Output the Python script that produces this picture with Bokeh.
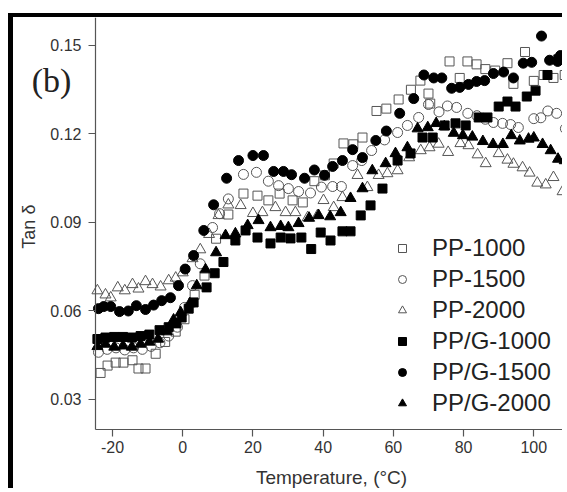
import math
from bokeh.plotting import figure
from bokeh.models import FixedTicker, Legend, LegendItem, Label
from bokeh.embed import file_html
from bokeh.resources import INLINE

# ---------------- data ----------------
pp1000_t = [-23.4, -21.4, -19.1, -16.9, -14.3, -12.6, -10.6, -7.7, -5.0, -2.0, 0.5, 3.4, 6.2, 9.5, 13.0,
            17.3, 21.3, 24.4, 27.6, 31.3, 34.2, 37.5, 40.5, 43.0, 45.8, 48.6, 51.2, 55.2, 58.0, 61.5,
            65.0, 67.7, 70.0, 70.5, 76.0, 78.9, 81.1, 83.7, 86.2, 89.0, 92.5, 94.2, 97.5, 100.0, 102.8,
            105.6, 108.8]
pp1000_v = [0.0390, 0.0415, 0.0425, 0.0425, 0.0433, 0.0405, 0.0405, 0.0455, 0.0495, 0.0530, 0.0572, 0.0655,
            0.0720, 0.0845, 0.0927, 0.0998, 0.0991, 0.0975, 0.0998, 0.0975, 0.0968, 0.1040, 0.1060, 0.1100,
            0.1168, 0.1165, 0.1188, 0.1278, 0.1286, 0.1317, 0.1350, 0.1381, 0.1337, 0.1303, 0.1446, 0.1390,
            0.1446, 0.1436, 0.1420, 0.1415, 0.1440, 0.1370, 0.1478, 0.1380, 0.1400, 0.1390, 0.1400]

pp1500_t = [-24.0, -21.5, -19.0, -16.5, -14.0, -11.5, -9.0, -6.5, -4.0, -1.5, 0.5, 2.8, 5.0, 8.5, 10.5,
            13.0, 17.3, 21.0, 24.4, 27.3, 30.1, 33.0, 36.4, 39.5, 42.7, 45.2, 48.4, 51.0, 53.8, 57.5,
            61.2, 64.0, 67.2, 70.0, 73.0, 75.4, 78.0, 81.2, 83.8, 86.2, 88.5, 91.1, 93.4, 95.6, 100.0,
            102.0, 104.0, 106.5, 109.0]
pp1500_v = [0.0460, 0.0470, 0.0475, 0.0468, 0.0475, 0.0470, 0.0480, 0.0492, 0.0515, 0.0545, 0.0612, 0.0686,
            0.0760, 0.0883, 0.0930, 0.0980, 0.1063, 0.1070, 0.1040, 0.1025, 0.1015, 0.1005, 0.1000, 0.1020,
            0.1022, 0.1022, 0.1093, 0.1110, 0.1144, 0.1180, 0.1205, 0.1229, 0.1256, 0.1300, 0.1275, 0.1295,
            0.1290, 0.1270, 0.1262, 0.1250, 0.1239, 0.1236, 0.1232, 0.1222, 0.1252, 0.1255, 0.1278, 0.1270,
            0.1218]

pp2000_t = [-24.3, -22.0, -20.5, -18.5, -16.5, -14.3, -12.6, -10.6, -8.6, -6.3, -4.0, -2.0, 0.0, 2.8, 5.0,
            7.5, 10.2, 13.0, 16.5, 20.0, 22.7, 26.4, 29.3, 32.1, 35.6, 38.4, 40.1, 43.0, 45.5, 49.8,
            52.6, 55.8, 58.3, 61.2, 64.5, 67.8, 70.3, 72.9, 75.6, 79.1, 81.4, 84.0, 86.3, 90.0, 92.5,
            94.2, 96.8, 98.8, 101.0, 103.4, 105.6, 108.2]
pp2000_v = [0.0669, 0.0655, 0.0645, 0.0679, 0.0669, 0.0690, 0.0675, 0.0700, 0.0690, 0.0682, 0.0703, 0.0712,
            0.0730, 0.0778, 0.0808, 0.0860, 0.0924, 0.0960, 0.0958, 0.0931, 0.0934, 0.0951, 0.0934, 0.0934,
            0.0917, 0.0924, 0.0975, 0.0951, 0.0985, 0.1060, 0.1019, 0.1060, 0.1066, 0.1076, 0.1120, 0.1144,
            0.1154, 0.1166, 0.1138, 0.1168, 0.1161, 0.1130, 0.1100, 0.1134, 0.1112, 0.1098, 0.1086, 0.1068,
            0.1034, 0.1028, 0.1053, 0.1005]

ppg1000_t = [-24.3, -22.0, -19.5, -17.0, -14.5, -12.0, -9.5, -6.6, -4.0, -1.8, -0.3, 1.7, 3.1, 6.8, 9.1,
             11.6, 15.0, 17.9, 21.3, 25.0, 27.9, 30.7, 33.8, 36.6, 39.3, 42.1, 45.5, 47.8, 50.7, 53.5,
             56.9, 61.2, 64.9, 68.3, 71.2, 74.6, 77.7, 80.6, 84.3, 86.8, 90.0, 92.5, 94.8, 98.0, 100.5,
             103.9, 107.0]
ppg1000_v = [0.0505, 0.0510, 0.0512, 0.0512, 0.0510, 0.0515, 0.0520, 0.0535, 0.0545, 0.0558, 0.0578, 0.0608,
             0.0629, 0.0680, 0.0728, 0.0766, 0.0839, 0.0873, 0.0849, 0.0829, 0.0849, 0.0846, 0.0849, 0.0810,
             0.0866, 0.0839, 0.0870, 0.0870, 0.0924, 0.0958, 0.1015, 0.1110, 0.1134, 0.1188, 0.1188, 0.1229,
             0.1236, 0.1229, 0.1256, 0.1256, 0.1293, 0.1310, 0.1293, 0.1327, 0.1347, 0.1400, 0.1453]

ppg1500_t = [-24.0, -22.5, -20.5, -18.0, -15.5, -13.2, -10.6, -8.3, -6.0, -3.5, -1.2, 0.7, 3.1, 6.0, 8.8,
             12.5, 15.9, 20.0, 23.0, 25.9, 28.7, 31.0, 34.7, 37.5, 40.4, 42.7, 45.5, 48.4, 51.2, 55.0,
             58.0, 61.8, 65.8, 68.7, 71.5, 73.8, 76.6, 78.9, 81.4, 83.7, 86.0, 88.5, 91.4, 94.2, 97.0,
             99.4, 102.2, 104.5, 106.8, 107.6]
ppg1500_v = [0.0608, 0.0615, 0.0615, 0.0598, 0.0600, 0.0618, 0.0605, 0.0620, 0.0635, 0.0645, 0.0686, 0.0742,
             0.0788, 0.0873, 0.0960, 0.1050, 0.1110, 0.1127, 0.1127, 0.1073, 0.1073, 0.1062, 0.1050, 0.1078,
             0.1060, 0.1090, 0.1110, 0.1147, 0.1120, 0.1178, 0.1210, 0.1270, 0.1320, 0.1400, 0.1390, 0.1390,
             0.1355, 0.1358, 0.1368, 0.1378, 0.1381, 0.1405, 0.1410, 0.1390, 0.1440, 0.1443, 0.1532, 0.1450,
             0.1446, 0.1466]

ppg2000_t = [-24.3, -22.0, -19.5, -17.0, -14.5, -12.0, -9.5, -7.0, -4.5, -2.6, -0.6, 2.0, 4.0, 6.5, 9.5,
             12.2, 15.0, 18.5, 21.6, 25.0, 27.9, 30.1, 33.0, 36.0, 38.7, 42.0, 45.0, 47.8, 51.2, 54.0,
             57.8, 60.6, 64.0, 66.9, 69.8, 72.2, 74.5, 77.2, 79.8, 82.5, 85.5, 88.4, 91.2, 93.6, 96.0,
             98.5, 100.0, 102.5, 104.8, 106.9, 108.8]
ppg2000_v = [0.0480, 0.0488, 0.0478, 0.0482, 0.0478, 0.0488, 0.0495, 0.0505, 0.0530, 0.0570, 0.0595, 0.0625,
             0.0686, 0.0740, 0.0798, 0.0856, 0.0862, 0.0890, 0.0907, 0.0883, 0.0887, 0.0883, 0.0897, 0.0915,
             0.0924, 0.0920, 0.0934, 0.0982, 0.1015, 0.1076, 0.1100, 0.1134, 0.1154, 0.1218, 0.1222, 0.1236,
             0.1225, 0.1203, 0.1195, 0.1190, 0.1175, 0.1165, 0.1165, 0.1195, 0.1177, 0.1183, 0.1187, 0.1165,
             0.1144, 0.1115, 0.1110]

series_names = ["PP-1000", "PP-1500", "PP-2000", "PP/G-1000", "PP/G-1500", "PP/G-2000"]
x_ticks = [-20, 0, 20, 40, 60, 80, 100]
x_tick_labels = ["-20", "0", "20", "40", "60", "80", "100"]
y_ticks = [0.03, 0.06, 0.09, 0.12, 0.15]
y_tick_labels = ["0.03", "0.06", "0.09", "0.12", "0.15"]
x_title = "Temperature, (°C)"
y_title = "Tan δ"

X_MIN, X_MAX = -24.84, 109.6      # window spanned by the drawn axes
Y_MIN, Y_MAX = 0.01983, 0.15949

# ---------------- figure ----------------
FONT = "Liberation Sans"
p = figure(width=554, height=475,
           x_range=(-48.2, X_MAX), y_range=(-0.00153, Y_MAX),
           output_backend="svg", toolbar_location=None,
           min_border_left=0, min_border_right=0, min_border_top=0, min_border_bottom=0,
           background_fill_color="white", border_fill_color="white",
           styles={"margin-left": "8px", "margin-top": "13px",
                   "border-left": "5px solid black", "border-top": "4px solid black"})
p.outline_line_color = None
p.xgrid.visible = False
p.ygrid.visible = False

for ax in (p.xaxis[0], p.yaxis[0]):
    ax.axis_line_color = "#555555"
    ax.axis_line_width = 1.2
    ax.major_tick_line_color = "#555555"
    ax.major_tick_line_width = 1.2
    ax.major_tick_in = 0
    ax.major_tick_out = 7
    ax.minor_tick_line_color = None
    ax.major_label_text_font = FONT
    ax.major_label_text_font_size = "16px"
    ax.major_label_text_color = "#333333"

p.xaxis[0].bounds = (X_MIN, X_MAX)
p.xaxis[0].fixed_location = Y_MIN
p.yaxis[0].bounds = (Y_MIN, Y_MAX)
p.yaxis[0].fixed_location = X_MIN
p.xaxis[0].ticker = FixedTicker(ticks=x_ticks)
p.xaxis[0].major_label_overrides = {t: l for t, l in zip(x_ticks, x_tick_labels)}
p.yaxis[0].ticker = FixedTicker(ticks=y_ticks)
p.yaxis[0].major_label_overrides = {t: l for t, l in zip(y_ticks, y_tick_labels)}
p.xaxis[0].major_label_standoff = 5
p.yaxis[0].major_label_standoff = 7

# axis titles (centred on the axes' own extent)
p.add_layout(Label(x=(X_MIN + X_MAX) / 2, y=0.0034, text=x_title, text_font=FONT,
                   text_font_size="19px", text_color="#333333",
                   text_align="center", text_baseline="middle"))
p.add_layout(Label(x=-43.9, y=0.0886, text=y_title, text_font=FONT, angle=math.pi / 2,
                   text_font_size="18px", text_color="#333333",
                   text_align="center", text_baseline="middle"))

OPEN = "#555555"
r1 = p.scatter(pp1000_t, pp1000_v, marker="square", size=9, fill_color=None, line_color=OPEN, line_width=1)
r2 = p.scatter(pp1500_t, pp1500_v, marker="circle", size=10, fill_color=None, line_color=OPEN, line_width=1)
r3 = p.scatter(pp2000_t, pp2000_v, marker="triangle", size=11, fill_color=None, line_color=OPEN, line_width=1)
r4 = p.scatter(ppg1000_t, ppg1000_v, marker="square", size=9, fill_color="black", line_color="black")
r5 = p.scatter(ppg1500_t, ppg1500_v, marker="circle", size=10, fill_color="black", line_color="black")
r6 = p.scatter(ppg2000_t, ppg2000_v, marker="triangle", size=11, fill_color="black", line_color="black")

items = [LegendItem(label=n, renderers=[r]) for n, r in zip(series_names, [r1, r2, r3, r4, r5, r6])]
legend = Legend(items=items, location=(379, 74), padding=0, margin=0, spacing=0,
                glyph_width=20, glyph_height=20, label_height=31, label_standoff=20,
                label_text_font=FONT, label_text_font_size="24px", label_text_color="#222222",
                background_fill_alpha=0, border_line_color=None)
p.add_layout(legend, "center")

p.add_layout(Label(x=-43.0, y=0.1381, text="(b)", text_font="Liberation Serif",
                   text_font_size="34px", text_color="#222222", text_baseline="middle"))

open("out.html", "w").write(file_html(p, INLINE))
